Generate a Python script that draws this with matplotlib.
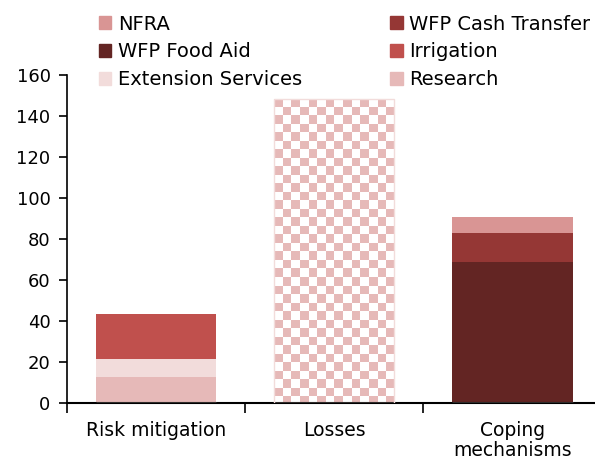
import numpy as np
import matplotlib.pyplot as plt
from matplotlib.patches import Patch

plt.rcParams['font.family'] = ['DejaVu Sans']

categories = ['Risk mitigation', 'Losses', 'Coping\nmechanisms']
research = [12.7, 0, 0]
extension = [8.8, 0, 0]
irrigation = [21.9, 0, 0]
food_aid = [0, 0, 68.8]
cash_transfer = [0, 0, 14.2]
nfra = [0, 0, 7.7]
losses = [0, 148.5, 0]

colors = {
    'Research': '#E6B9B8',
    'Extension Services': '#F2DCDB',
    'Irrigation': '#C0504D',
    'WFP Food Aid': '#632523',
    'WFP Cash Transfer': '#953735',
    'NFRA': '#D99594',
}

fig = plt.figure(figsize=(5.95, 4.63), dpi=100)
ax = fig.add_axes([0.113, 0.1296, 0.898, 0.7084])

x = np.arange(len(categories))
w = 0.674
bottom = np.zeros(len(categories))
series = [('Research', research), ('Extension Services', extension),
          ('Irrigation', irrigation), ('WFP Food Aid', food_aid),
          ('WFP Cash Transfer', cash_transfer), ('NFRA', nfra)]
for name, vals in series:
    ax.bar(x, vals, w, bottom=bottom, color=colors[name], linewidth=0)
    bottom += np.array(vals)

# losses bar: checkerboard fill clipped to the bar
lb = ax.bar(x, losses, w, color='none', edgecolor='#F2DCDB', linewidth=1.0, zorder=3)
for i, v in enumerate(losses):
    if v <= 0:
        continue
    ncols = 14
    cell = 4.15
    nrows = int(np.ceil(v / cell))
    board = (np.add.outer(np.arange(nrows), np.arange(ncols)) % 2)
    rgb = np.ones((nrows, ncols, 3))
    rgb[board == 0] = np.array([0xE6, 0xB9, 0xB8]) / 255
    im = ax.imshow(rgb, extent=(x[i] - w / 2, x[i] + w / 2, v - nrows * cell, v),
                   interpolation='nearest', aspect='auto', zorder=2)
    im.set_clip_path(lb[i])

ax.set_xlim(-0.5, 2.5)
ax.set_ylim(0, 160)
ax.set_yticks(np.arange(0, 161, 20))
ax.set_xticks(x)
ax.set_xticklabels(categories, linespacing=1.05)
ax.set_xticks([-0.5, 0.5, 1.5, 2.5], minor=True)
ax.tick_params(axis='x', which='major', length=0, pad=13, labelsize=13.5)
ax.tick_params(axis='x', which='minor', length=7, width=1.2, direction='out')
ax.tick_params(axis='y', length=6, width=1.2, direction='out', labelsize=13, pad=6)
for s in ['top', 'right']:
    ax.spines[s].set_visible(False)
ax.spines['left'].set_linewidth(1.2)
ax.spines['bottom'].set_linewidth(1.5)

order = ['NFRA', 'WFP Food Aid', 'Extension Services',
         'WFP Cash Transfer', 'Irrigation', 'Research']
handles = [Patch(color=colors[n], label=n) for n in order]
fig.legend(handles=handles, ncol=2, loc='upper left', bbox_to_anchor=(0.153, 0.985),
           frameon=False, fontsize=14, handlelength=0.65, handleheight=0.65,
           handletextpad=0.35, columnspacing=4.5, labelspacing=0.45, borderaxespad=0)

fig.savefig('out.png', dpi=100)
